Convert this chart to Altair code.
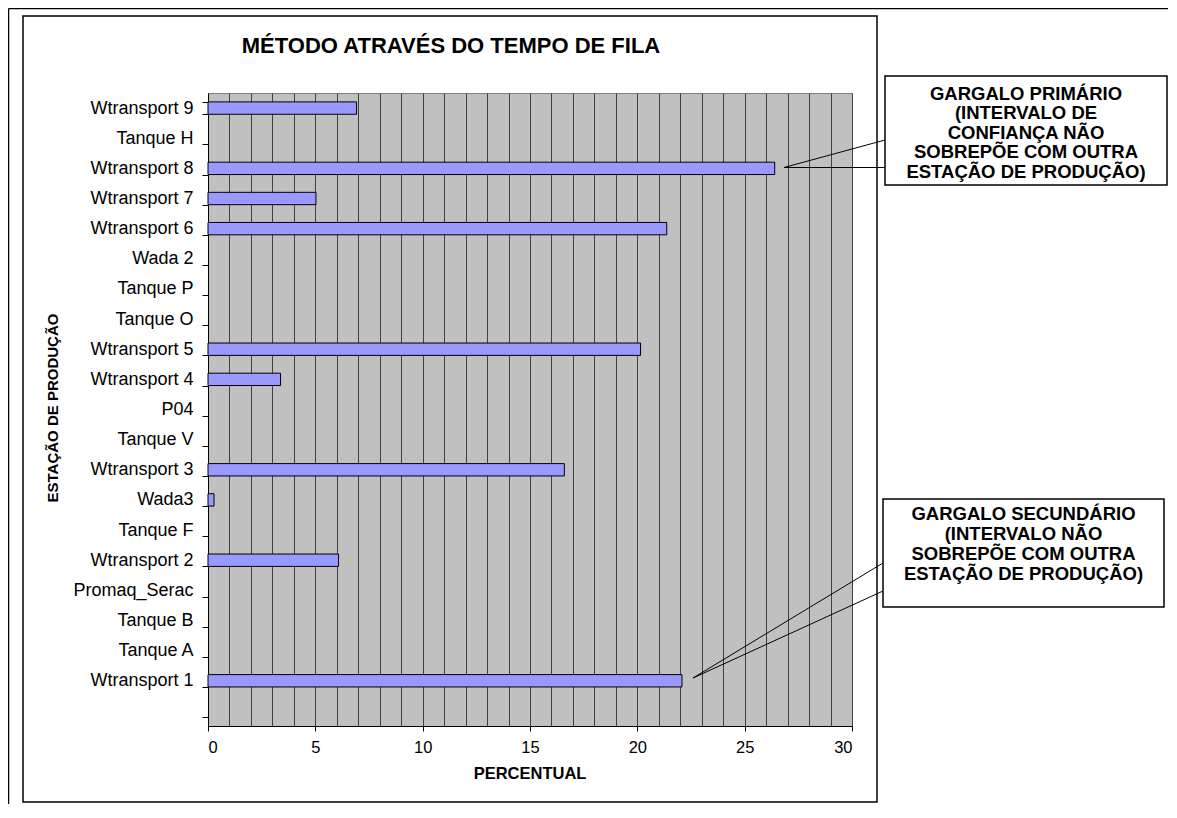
import altair as alt
import pandas as pd

# ---- data (top to bottom as in the chart) ----
stations = ["Wtransport 9", "Tanque H", "Wtransport 8", "Wtransport 7", "Wtransport 6",
            "Wada 2", "Tanque P", "Tanque O", "Wtransport 5", "Wtransport 4",
            "P04", "Tanque V", "Wtransport 3", "Wada3", "Tanque F",
            "Wtransport 2", "Promaq_Serac", "Tanque B", "Tanque A", "Wtransport 1"]
percent = [6.92, 0, 26.4, 5.03, 21.37,
           0, 0, 0, 20.15, 3.38,
           0, 0, 16.6, 0.28, 0,
           6.08, 0, 0, 0, 22.08]
domain = stations + [""]          # empty category slot at the bottom
x_ticks = list(range(0, 31))

title_text = "MÉTODO ATRAVÉS DO TEMPO DE FILA"
x_title = "PERCENTUAL"
y_title = "ESTAÇÃO DE PRODUÇÃO"
callout_primary = ["GARGALO PRIMÁRIO", "(INTERVALO DE", "CONFIANÇA NÃO",
                   "SOBREPÕE COM OUTRA", "ESTAÇÃO DE PRODUÇÃO)"]
callout_secondary = ["GARGALO SECUNDÁRIO", "(INTERVALO NÃO",
                     "SOBREPÕE COM OUTRA", "ESTAÇÃO DE PRODUÇÃO)"]

df = pd.DataFrame({"station": stations, "percent": percent})
one = pd.DataFrame({"k": [0]})

FONT = "Liberation Sans"
W, H = 644, 633

bars = alt.Chart(df).transform_filter("datum.percent > 0").mark_bar(
    color="#9999FF", stroke="black", strokeWidth=1
).encode(
    x=alt.X("percent:Q",
            scale=alt.Scale(domain=[0, 30], nice=False, zero=True),
            axis=alt.Axis(values=x_ticks, grid=True, gridColor="#404040", gridWidth=1,
                          gridOpacity=1,
                          labelExpr="datum.value % 5 === 0 ? datum.label : ''",
                          tickOpacity={"condition": {"test": "datum.value % 5 === 0", "value": 1}, "value": 0},
                          tickColor="black", tickSize=5, domainColor="black",
                          labelFont=FONT, labelFontSize=16.5, labelColor="black",
                          labelPadding=8, title=None)),
    y=alt.Y("station:N", sort=domain,
            scale=alt.Scale(domain=domain, paddingInner=0.59, paddingOuter=0.295),
            axis=alt.Axis(tickBand="extent", tickColor="black", tickSize=6,
                          domainColor="black", labelFont=FONT, labelFontSize=18,
                          labelColor="black", labelPadding=9, grid=False, title=None)),
)

def txt(text, x, y, size, bold=False, angle=None, lh=None, align="center"):
    kw = dict(font=FONT, fontSize=size, fontWeight="bold" if bold else "normal",
              color="black", align=align, baseline="middle")
    if angle is not None:
        kw["angle"] = angle
    if lh is not None:
        kw["lineHeight"] = lh
    return alt.Chart(one).mark_text(**kw).encode(
        x=alt.value(x), y=alt.value(y), text=alt.value(text))

def box(x, x2, y, y2, fill="white", sw=1.5):
    return alt.Chart(one).mark_rect(fill=fill, stroke="black", strokeWidth=sw).encode(
        x=alt.value(x), x2=alt.value(x2), y=alt.value(y), y2=alt.value(y2))

def line(x, y, x2, y2, sw=1):
    return alt.Chart(one).mark_rule(color="black", strokeWidth=sw).encode(
        x=alt.value(x), x2=alt.value(x2), y=alt.value(y), y2=alt.value(y2))

OX, OY = 208, 93  # plot origin on the page

def P(px, py):
    return px - OX, py - OY

# frames
outer_left = line(-199.5, -84.5, -199.5, 720, sw=1.5)
outer_top = line(-199.5, -84.5, 960, -84.5, sw=1.5)
ix, iy = P(23, 16)
ix2, iy2 = P(877, 802)
inner = box(ix, ix2, iy, iy2, fill="transparent", sw=1.5)

# primary callout
bx, by = P(885, 76)
bx2, by2 = P(1167, 185)
prim_box = box(bx, bx2, by, by2)
ax, ay = P(784, 167.5)
l1x, l1y = P(885, 140)
l2x, l2y = P(885, 167.5)
prim_l1 = line(ax, ay, l1x, l1y)
prim_l2 = line(ax, ay, l2x, l2y)
ptx, pty = P(1026, 94)
prim_text = txt(callout_primary, ptx, pty, 18.5, bold=True, lh=19.4)

# secondary callout
sx, sy = P(883, 499)
sx2, sy2 = P(1164, 607)
sec_box = box(sx, sx2, sy, sy2)
cx, cy = P(693, 678)
s1x, s1y = P(883, 563)
s2x, s2y = P(883, 591)
sec_l1 = line(cx, cy, s1x, s1y)
sec_l2 = line(cx, cy, s2x, s2y)
stx, sty = P(1023.5, 514)
sec_text = txt(callout_secondary, stx, sty, 18.5, bold=True, lh=20)

# titles
tx, ty = P(451, 46)
title = txt(title_text, tx, ty, 22, bold=True)
xtx, xty = P(530, 774)
xtitle = txt(x_title, xtx, xty, 16.5, bold=True)
ytx, yty = P(53, 408)
ytitle = txt(y_title, ytx, yty, 15, bold=True, angle=270)

chart = alt.layer(
    bars, outer_left, outer_top, inner,
    prim_l1, prim_l2, prim_box, prim_text,
    sec_l1, sec_l2, sec_box, sec_text,
    title, xtitle, ytitle,
).properties(
    width=W, height=H,
    autosize=alt.AutoSizeParams(type="none"),
    padding={"left": 200, "top": 85, "right": 317, "bottom": 78},
    background="white",
).configure_view(
    fill="#C0C0C0", stroke="#808080", strokeWidth=1
)

chart.save("out.html", embed_options={"renderer": "svg", "actions": False})
